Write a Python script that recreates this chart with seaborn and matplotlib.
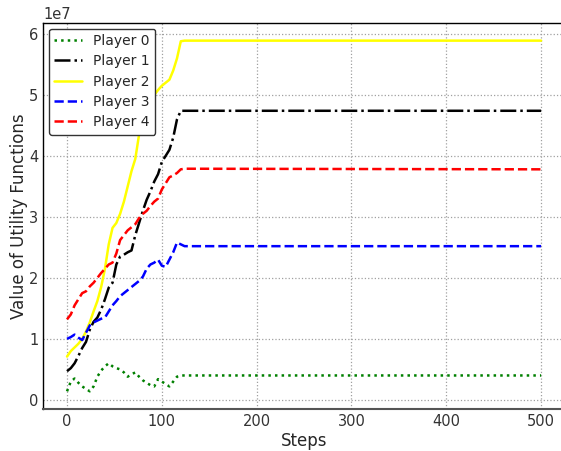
import matplotlib
matplotlib.use("Agg")
import matplotlib.pyplot as plt
import seaborn as sns
import pandas as pd

# Steps at which utilities were recorded (the game settles after ~120 steps)
steps = [0, 4, 8, 12, 16, 20, 24, 28, 32, 36, 40, 44, 48, 52, 56, 60,
         64, 68, 72, 76, 80, 84, 88, 92, 96, 100, 104, 108, 112, 116, 120, 124, 500]

# Utility values per player, in units of 1e7
player0 = [0.14, 0.30, 0.35, 0.28, 0.22, 0.18, 0.14, 0.22, 0.38, 0.48, 0.55, 0.60, 0.55, 0.52,
           0.50, 0.45, 0.38, 0.42, 0.45, 0.38, 0.32, 0.28, 0.24, 0.22, 0.34, 0.30, 0.26, 0.22,
           0.30, 0.38, 0.40, 0.40, 0.40]
player1 = [0.47, 0.52, 0.60, 0.72, 0.85, 0.95, 1.15, 1.28, 1.35, 1.48, 1.65, 1.84, 1.92, 2.22,
           2.35, 2.38, 2.42, 2.45, 2.70, 2.90, 3.10, 3.28, 3.42, 3.58, 3.70, 3.90, 4.00, 4.10,
           4.30, 4.60, 4.74, 4.74, 4.74]
player2 = [0.71, 0.80, 0.86, 0.92, 1.00, 1.12, 1.27, 1.45, 1.62, 1.85, 2.15, 2.55, 2.82, 2.90,
           3.05, 3.25, 3.50, 3.75, 3.95, 4.35, 4.50, 4.70, 4.92, 5.00, 5.08, 5.15, 5.20, 5.25,
           5.40, 5.60, 5.88, 5.89, 5.89]
player3 = [1.00, 1.03, 1.07, 1.02, 0.98, 1.10, 1.22, 1.27, 1.30, 1.33, 1.35, 1.45, 1.55, 1.62,
           1.70, 1.75, 1.80, 1.85, 1.90, 1.95, 2.02, 2.15, 2.22, 2.25, 2.30, 2.20, 2.18, 2.30,
           2.42, 2.58, 2.55, 2.52, 2.52]
player4 = [1.32, 1.40, 1.55, 1.65, 1.75, 1.78, 1.86, 1.92, 2.00, 2.08, 2.15, 2.22, 2.25, 2.40,
           2.62, 2.70, 2.78, 2.83, 2.88, 2.98, 3.05, 3.10, 3.18, 3.25, 3.30, 3.45, 3.55, 3.65,
           3.68, 3.72, 3.78, 3.79, 3.78]

labels = ["Player 0", "Player 1", "Player 2", "Player 3", "Player 4"]
colors = ["green", "black", "yellow", "blue", "red"]
styles = [":", "-.", "-", "--", "--"]
series = [player0, player1, player2, player3, player4]

sns.set_theme(style="white")
plt.rcParams["font.family"] = ["DejaVu Sans"]

fig = plt.figure(figsize=(5.61, 4.51), dpi=100)
# axes run slightly past the right edge of the canvas
ax = fig.add_axes([0.0772, 0.0931, 0.9296, 0.856])

for name, vals, col, ls in zip(labels, series, colors, styles):
    df = pd.DataFrame({"step": steps, "value": [v * 1e7 for v in vals]})
    sns.lineplot(data=df, x="step", y="value", ax=ax, color=col, linestyle=ls,
                 linewidth=1.8, label=name)

ax.set_xlim(-25, 525)
ax.set_ylim(-0.15e7, 6.18e7)
ax.set_xlabel("Steps", fontsize=12, labelpad=2)
ax.set_ylabel("Value of Utility Functions", fontsize=12, labelpad=1)
ax.set_xticks([0, 100, 200, 300, 400, 500])
ax.set_yticks([0, 1e7, 2e7, 3e7, 4e7, 5e7, 6e7])
ax.tick_params(axis="both", direction="in", length=6, labelsize=10.5, colors="#333333",
               labelcolor="#333333")
ax.ticklabel_format(axis="y", style="sci", scilimits=(0, 0))
ax.yaxis.get_offset_text().set_fontsize(10.5)
ax.grid(True, linestyle=":", color="#a0a0a0", linewidth=0.9)

for side in ["left", "top", "right"]:
    ax.spines[side].set_color("black")
    ax.spines[side].set_linewidth(1.0)
ax.spines["bottom"].set_color("#555555")
ax.spines["bottom"].set_linewidth(1.5)

leg = ax.legend(loc="upper left", fontsize=10, frameon=True, fancybox=True,
                framealpha=1.0, borderaxespad=0.4, handlelength=2.0, labelspacing=0.45)
leg.get_frame().set_edgecolor("#333333")
leg.get_frame().set_linewidth(1.0)

fig.savefig("out.png", dpi=100)
